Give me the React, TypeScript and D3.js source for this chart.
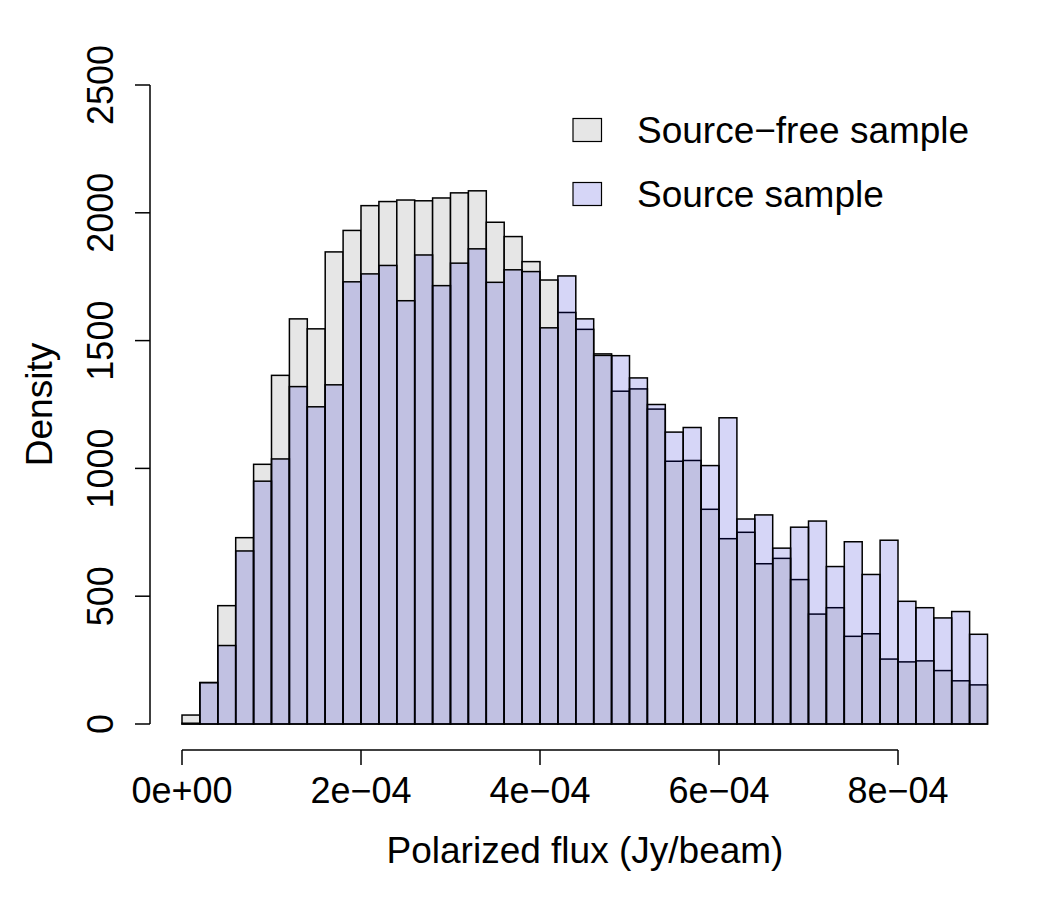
import React from "react";
import * as d3 from "d3";

const binWidth = 2e-5;
const binStarts = d3.range(45).map((i) => i * binWidth);

const sourceFree = [
  35, 162, 463, 729, 1016, 1364, 1585, 1546, 1847, 1931,
  2028, 2044, 2050, 2047, 2058, 2078, 2086, 1963, 1907, 1809,
  1737, 1610, 1544, 1448, 1302, 1311, 1232, 1028, 1031, 840,
  725, 750, 627, 648, 565, 430, 455, 343, 353, 254,
  243, 247, 209, 169, 153,
];

const sourceSample = [
  3, 162, 307, 677, 950, 1037, 1320, 1241, 1327, 1730,
  1761, 1794, 1656, 1835, 1715, 1803, 1859, 1728, 1777, 1770,
  1550, 1753, 1585, 1442, 1441, 1354, 1250, 1142, 1160, 1011,
  1198, 802, 818, 688, 770, 794, 616, 713, 585, 719,
  480, 455, 415, 440, 351,
];

const xTicks = [0, 2e-4, 4e-4, 6e-4, 8e-4];
const xTickLabels = ["0e+00", "2e\u221204", "4e\u221204", "6e\u221204", "8e\u221204"];
const yTicks = [0, 500, 1000, 1500, 2000, 2500];
const legendLabels = ["Source\u2212free sample", "Source sample"];

const FONT = "'Liberation Sans', Arial, Helvetica, sans-serif";
const GRAY = "#e6e6e6";
const PURPLE = "rgb(0,0,205)";
const PURPLE_OPACITY = 0.16;

export default function App() {
  const x = d3.scaleLinear().domain([0, 8e-4]).range([182, 898]);
  const y = d3.scaleLinear().domain([0, 2500]).range([724, 85]);

  const bars = (vals: number[], fill: string, opacity: number) =>
    vals.map((v, i) => {
      const x0 = x(binStarts[i]);
      const x1 = x(binStarts[i] + binWidth);
      const yt = y(v);
      return (
        <g key={i}>
          <rect x={x0} y={yt} width={x1 - x0} height={y(0) - yt} fill={fill} fillOpacity={opacity} stroke="none" />
          <rect x={x0} y={yt} width={x1 - x0} height={y(0) - yt} fill="none" stroke="#000" strokeWidth={1.5} />
        </g>
      );
    });

  return (
    <svg
      width={1050}
      height={900}
      style={{ position: "absolute", left: 0, top: 0, background: "#fff" }}
      fontFamily={FONT}
    >
      <rect x={0} y={0} width={1050} height={900} fill="#fff" />
      {bars(sourceFree, GRAY, 1)}
      {bars(sourceSample, PURPLE, PURPLE_OPACITY)}

      {/* x axis */}
      <line x1={x(0)} x2={x(8e-4)} y1={750} y2={750} stroke="#000" strokeWidth={1.5} />
      {xTicks.map((t, i) => (
        <g key={i}>
          <line x1={x(t)} x2={x(t)} y1={750} y2={765} stroke="#000" strokeWidth={1.5} />
          <text x={x(t)} y={803} textAnchor="middle" fontSize={36}>
            {xTickLabels[i]}
          </text>
        </g>
      ))}

      {/* y axis */}
      <line x1={150} x2={150} y1={y(0)} y2={y(2500)} stroke="#000" strokeWidth={1.5} />
      {yTicks.map((t, i) => (
        <g key={i}>
          <line x1={135} x2={150} y1={y(t)} y2={y(t)} stroke="#000" strokeWidth={1.5} />
          <text
            transform={`translate(113,${y(t)}) rotate(-90)`}
            textAnchor="middle"
            fontSize={36}
          >
            {t}
          </text>
        </g>
      ))}

      <text x={585} y={863} textAnchor="middle" fontSize={37}>
        Polarized flux (Jy/beam)
      </text>
      <text transform={`translate(52,${(y(0) + y(2500)) / 2}) rotate(-90)`} textAnchor="middle" fontSize={37}>
        Density
      </text>

      {/* legend */}
      {legendLabels.map((lab, i) => (
        <g key={i} transform={`translate(0,${i * 64})`}>
          <rect x={573} y={118.5} width={28.5} height={23} fill="#fff" stroke="none" />
          {i === 0 ? (
            <rect x={573} y={118.5} width={28.5} height={23} fill={GRAY} stroke="#000" strokeWidth={1.2} />
          ) : (
            <>
              <rect x={573} y={118.5} width={28.5} height={23} fill={PURPLE} fillOpacity={PURPLE_OPACITY} stroke="none" />
              <rect x={573} y={118.5} width={28.5} height={23} fill="none" stroke="#000" strokeWidth={1.2} />
            </>
          )}
          <text x={637} y={143} fontSize={37}>
            {lab}
          </text>
        </g>
      ))}
    </svg>
  );
}
